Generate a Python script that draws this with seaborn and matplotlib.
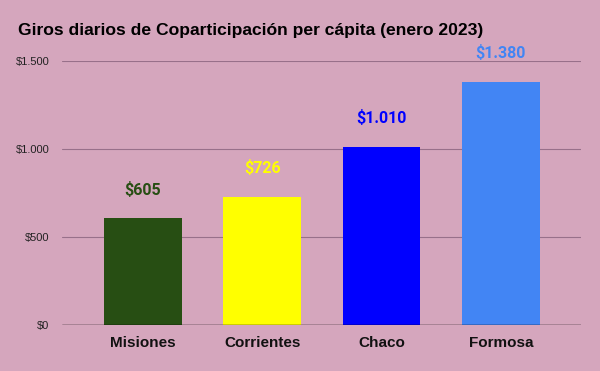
import matplotlib
matplotlib.use("Agg")
import matplotlib.pyplot as plt
import seaborn as sns
import pandas as pd
from matplotlib.ticker import FuncFormatter

# datos
provincias = ['Misiones', 'Corrientes', 'Chaco', 'Formosa']
giros = [605, 726, 1010, 1380]
etiquetas = ['$605', '$726', '$1.010', '$1.380']
colores = ['#274e13', '#ffff00', '#0000ff', '#4285f4']

fondo = '#d5a6bd'

sns.set_theme(style='white')
plt.rcParams['font.family'] = ['Liberation Sans', 'DejaVu Sans']

df = pd.DataFrame({'provincia': provincias, 'giro': giros})

fig = plt.figure(figsize=(6, 3.71), dpi=100, facecolor=fondo)
ax = fig.add_axes([0.103, 0.124, 0.865, 0.712])
ax.set_facecolor(fondo)

sns.barplot(data=df, x='provincia', y='giro', hue='provincia', palette=colores,
            width=0.65, legend=False, ax=ax, saturation=1, zorder=3, linewidth=0)

for i, (v, t) in enumerate(zip(giros, etiquetas)):
    ax.text(i, v + 163, t, ha='center', va='center', color=colores[i],
            fontsize=11.5, fontweight='bold', family=['Roboto', 'DejaVu Sans'])

ax.set_ylim(0, 1500)
ax.set_xlim(-0.68, 3.67)
ax.set_yticks([0, 500, 1000, 1500])
ax.yaxis.set_major_formatter(FuncFormatter(lambda v, p: '$' + f'{int(v):,}'.replace(',', '.')))
ax.grid(axis='y', color='#98708a', linewidth=0.8, zorder=0)
ax.axhline(0, color='black', linewidth=1, zorder=4)

for s in ax.spines.values():
    s.set_visible(False)

ax.tick_params(axis='y', labelsize=8, colors='#222222', length=0, pad=9)
ax.tick_params(axis='x', length=0, pad=8)
for lab in ax.get_xticklabels():
    lab.set_fontsize(11)
    lab.set_fontweight('bold')
    lab.set_color('#111111')

ax.set_xlabel('')
ax.set_ylabel('')

fig.text(0.03, 0.918, 'Giros diarios de Coparticipación per cápita (enero 2023)',
         fontsize=12.6, fontweight='bold', color='black', va='center', ha='left')

fig.savefig('out.png', dpi=100, facecolor=fondo)
